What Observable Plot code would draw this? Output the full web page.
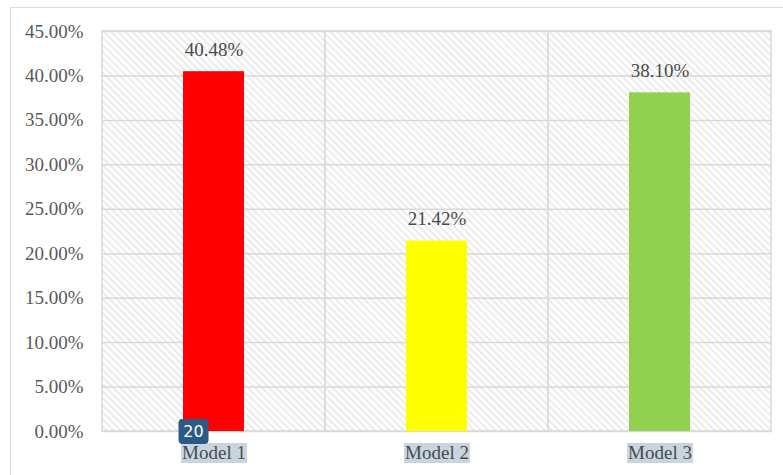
<!DOCTYPE html>
<html>
<head>
<meta charset="utf-8">
<script src="https://cdn.jsdelivr.net/npm/d3@7"></script>
<script src="https://cdn.jsdelivr.net/npm/@observablehq/plot@0.6"></script>
<style>
  html, body { margin: 0; padding: 0; background: #fff; overflow: hidden; width: 783px; height: 475px; }
  #wrap { position: relative; width: 783px; height: 475px; }
  #outer { position: absolute; left: 10px; top: 7px; width: 2000px; height: 2000px; border: 1.5px solid #dcdcdc; pointer-events: none; }
  #chart { position: absolute; left: 0; top: 0; }
  #chart svg g[aria-label$="tick label"] text, #chart svg g[aria-label="text"] text {
    font-family: "Liberation Serif", "Times New Roman", "DejaVu Serif", serif !important;
  }
</style>
</head>
<body>
<div id="wrap"><div id="outer"></div><div id="chart"></div></div>
<script>
const categories = ["Model 1", "Model 2", "Model 3"];
const values = [0.4048, 0.2142, 0.3810];
const valueLabels = ["40.48%", "21.42%", "38.10%"];
const barColors = ["#ff0000", "#ffff00", "#92d050"];
const yTicks = [0, 0.05, 0.10, 0.15, 0.20, 0.25, 0.30, 0.35, 0.40, 0.45];
const badgeCategory = "Model 1";
const badgeText = "20";

const data = categories.map((c, i) => ({cat: c, value: values[i], label: valueLabels[i], color: barColors[i]}));

const serif = "Liberation Serif";

const chart = Plot.plot({
  width: 783,
  height: 475,
  marginLeft: 101,
  marginRight: 11,
  marginTop: 31,
  marginBottom: 44,
  style: {fontFamily: serif, fontSize: "19px", color: "#595959", background: "transparent"},
  x: {domain: categories, padding: 0, label: null},
  y: {domain: [0, 0.45], label: null},
  marks: [
    Plot.barY(categories, {x: d => d, y1: 0, y2: 0.45, fill: "url(#hatch)", stroke: "#d9d9d9", strokeWidth: 1.5}),
    Plot.gridY(yTicks, {stroke: "#d9d9d9", strokeOpacity: 1, strokeWidth: 1.5}),
    Plot.barY(data, {x: "cat", y: "value", fill: "color", insetLeft: 81, insetRight: 81}),
    Plot.text(data, {x: "cat", y: "value", text: "label", dy: -22, fill: "#4a4a4a", fontSize: 19, fontFamily: serif}),
    Plot.axisY(yTicks, {tickSize: 0, tickPadding: 18, tickFormat: d => (d * 100).toFixed(2) + "%", fill: "#595959", fontSize: 19, label: null}),
    Plot.axisX({tickSize: 0, tickPadding: 14, fill: "#4a4a4a", fontSize: 19, label: null})
  ]
});

const ns = "http://www.w3.org/2000/svg";
const defs = document.createElementNS(ns, "defs");
defs.innerHTML = `<pattern id="hatch" patternUnits="userSpaceOnUse" width="5" height="5" patternTransform="rotate(-45)">
  <rect width="5" height="5" fill="#ffffff"/>
  <rect width="2" height="5" fill="#ebebeb"/>
</pattern>`;
chart.insertBefore(defs, chart.firstChild);
document.getElementById("chart").appendChild(chart);

const xAxisG = chart.querySelector('g[aria-label="x-axis tick label"]');
if (xAxisG) {
  xAxisG.querySelectorAll("text").forEach(t => {
    const b = t.getBBox();
    const ctm = t.getAttribute("transform");
    const r = document.createElementNS(ns, "rect");
    r.setAttribute("x", b.x - 1);
    r.setAttribute("y", b.y + 1);
    r.setAttribute("width", b.width + 2);
    r.setAttribute("height", b.height - 1);
    r.setAttribute("fill", "#c8d5e0");
    if (ctm) r.setAttribute("transform", ctm);
    t.parentNode.insertBefore(r, t);
  });
}

const xs = chart.scale("x"), ys = chart.scale("y");
const bx = xs.apply(badgeCategory) + xs.bandwidth / 2 - 20;
const by = ys.apply(0);
const g = document.createElementNS(ns, "g");
g.innerHTML = `<rect x="${bx - 15}" y="${by - 12}" width="30" height="25" rx="4" fill="#2b5a85"/>
<text x="${bx}" y="${by + 1}" text-anchor="middle" dominant-baseline="middle" fill="#ffffff" font-family="'DejaVu Sans', sans-serif" font-size="16">${badgeText}</text>`;
chart.appendChild(g);
</script>
</body>
</html>
